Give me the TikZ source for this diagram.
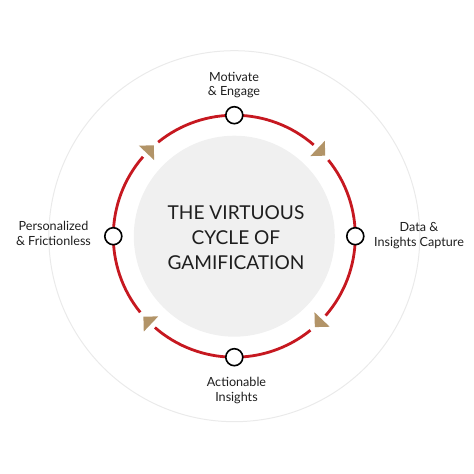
\documentclass[tikz,border=0pt]{standalone}
\usepackage{fontspec}
\setmainfont{Lato}
\usetikzlibrary{calc}
\definecolor{cycred}{RGB}{198,24,32}
\definecolor{cycgold}{RGB}{178,148,104}
\definecolor{cycgrey}{RGB}{240,240,240}
\definecolor{cycring}{RGB}{234,234,234}
\definecolor{cyctext}{RGB}{30,30,30}
\tikzset{
  stage/.style={circle,draw=black,fill=white,line width=1.6pt,minimum size=17pt,inner sep=0pt},
  lbl/.style={align=center,anchor=base,text=cyctext,font=\fontsize{12.6}{14.4}\selectfont,inner sep=0pt},
  ring/.style={draw=cycred,line width=2.8pt},
  tip/.style={fill=cycgold}
}
\begin{document}
\begin{tikzpicture}[x=1pt,y=1pt]
\useasboundingbox (-234.3,-237.8) rectangle (239.7,236.2);
\draw[cycring,line width=1pt] (0,0) circle (185.5);
\fill[cycgrey] (0,0) circle (100.5);
\node[align=center,anchor=base,text=cyctext,inner sep=0pt,font=\fontsize{19.1}{25}\selectfont] (title) at (1.7,-33.3) {THE VIRTUOUS\\CYCLE OF\\GAMIFICATION};
% red arcs
\foreach \p in {45,135,225,315}{
  \coordinate (s\p) at (\p+4:121);
  \draw[ring] (s\p) arc[start angle=\p+4,end angle=\p+84,radius=121];
}
% arrowheads
\foreach \p in {45,135,225,315}{
  \pgfmathsetmacro{\a}{\p+1.5}
  \coordinate (b\p) at (\a:121);
  \fill[tip] ($(b\p)+(\a-90:10.5)$) -- ($(b\p)+(\a:10.5)$) -- ($(b\p)+(\a+180:10.5)$) -- cycle;
}
\node[stage] (m) at (90:121) {};
\node[stage] (d) at (0:121) {};
\node[stage] (a) at (270:121) {};
\node[stage] (p) at (180:121) {};
\node[lbl] (ml) at (-0.3,140.2) {Motivate\\\& Engage};
\node[lbl] (dl) at (184.7,-9.8) {Data \&\\Insights Capture};
\node[lbl] (pl) at (-180.8,-8.8) {Personalized\\\& Frictionless};
\node[lbl] (al) at (2.2,-164.8) {Actionable\\Insights};
\end{tikzpicture}
\end{document}
